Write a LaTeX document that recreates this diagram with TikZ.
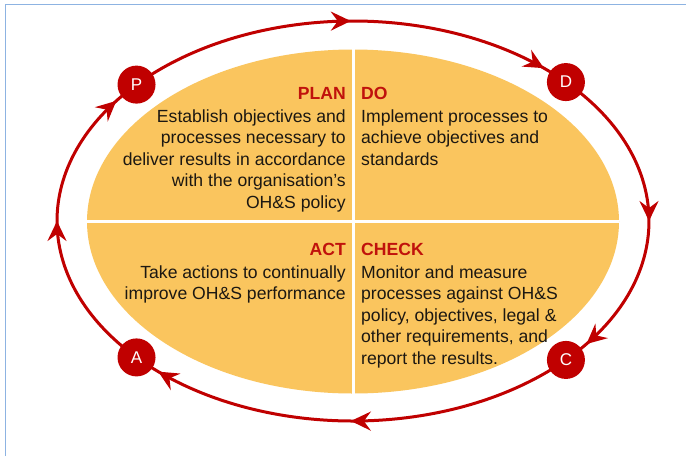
\documentclass[tikz,border=0pt]{standalone}
\usepackage{fontspec}
\setmainfont{Liberation Sans}
\usetikzlibrary{arrows.meta,decorations.markings,calc,shapes.geometric}
\definecolor{ohred}{RGB}{192,0,0}
\definecolor{ohhead}{RGB}{192,18,12}
\definecolor{ohorange}{RGB}{250,197,94}
\definecolor{ohblue}{RGB}{141,179,226}
\definecolor{ohtext}{RGB}{28,24,18}
\begin{document}
\begin{tikzpicture}[x=1pt,y=1pt,
  ring/.style={draw=ohred, ohred, line width=3pt, postaction={decorate},
    decoration={markings,
      mark=at position 0.5 with {\arrow{Stealth[length=20pt,width=19pt,inset=7pt]}},
      mark=at position -26pt with {\arrow{Stealth[length=20pt,width=19pt,inset=7pt]}}}},
  letter/.style={circle, fill=ohred, minimum size=38pt, inner sep=0pt, text=white,
    font=\fontsize{17}{20}\selectfont},
  quad/.style={inner sep=0pt, text=ohtext, font=\fontsize{17.6}{21.5}\selectfont},
  divider/.style={draw=white, line width=3pt},
  oval/.style={ellipse, fill=ohorange, minimum width=532pt, minimum height=344pt, inner sep=0pt}
]
\useasboundingbox (0,0) rectangle (686,-456);
\fill[white] (0,0) rectangle (686,-456);
% frame
\draw[ohblue, line width=1.5pt] (5.5,-456) -- (5.5,-4.5) -- (686,-4.5);

% orange oval and dividers
\node[oval] (ov) at (353,-221.5) {};
\draw[divider] (ov.north) -- (ov.south);
\draw[divider] (ov.west) -- (ov.east);

% ring centre and letter circles
\coordinate (O) at (353,-221);
\coordinate (pP) at ($(O)+(137:296 and 200)$);
\coordinate (pD) at ($(O)+(44:296 and 200)$);
\coordinate (pC) at ($(O)+(-44:296 and 200)$);
\coordinate (pA) at ($(O)+(-137:296 and 200)$);

\draw[ring] (pP) arc[start angle=137, end angle=44, x radius=296, y radius=200];
\draw[ring] (pD) arc[start angle=44, end angle=-44, x radius=296, y radius=200];
\draw[ring] (pC) arc[start angle=-44, end angle=-137, x radius=296, y radius=200];
\draw[ring] (pA) arc[start angle=-137, end angle=-223, x radius=296, y radius=200];

\node[letter] (P) at (pP) {P};
\node[letter] (D) at (pD) {D};
\node[letter] (C) at (pC) {C};
\node[letter] (A) at (pA) {A};

% quadrant texts
\node[quad, anchor=north east, align=right] (plan) at (346,-87)
  {\textcolor{ohhead}{\textbf{PLAN}}\\[1.5pt]
   Establish objectives and\\ processes necessary to\\ deliver results in accordance\\
   with the organisation’s\\ OH\&S policy};
\node[quad, anchor=north west, align=left] (do) at (361,-87)
  {\textcolor{ohhead}{\textbf{DO}}\\[1.5pt]
   Implement processes to\\ achieve objectives and\\ standards};
\node[quad, anchor=north east, align=right] (act) at (346,-243)
  {\textcolor{ohhead}{\textbf{ACT}}\\[1.5pt]
   Take actions to continually\\ improve OH\&S performance};
\node[quad, anchor=north west, align=left] (check) at (361,-243)
  {\textcolor{ohhead}{\textbf{CHECK}}\\[1.5pt]
   Monitor and measure\\ processes against OH\&S\\ policy, objectives, legal \&\\
   other requirements, and\\ report the results.};
\end{tikzpicture}
\end{document}
